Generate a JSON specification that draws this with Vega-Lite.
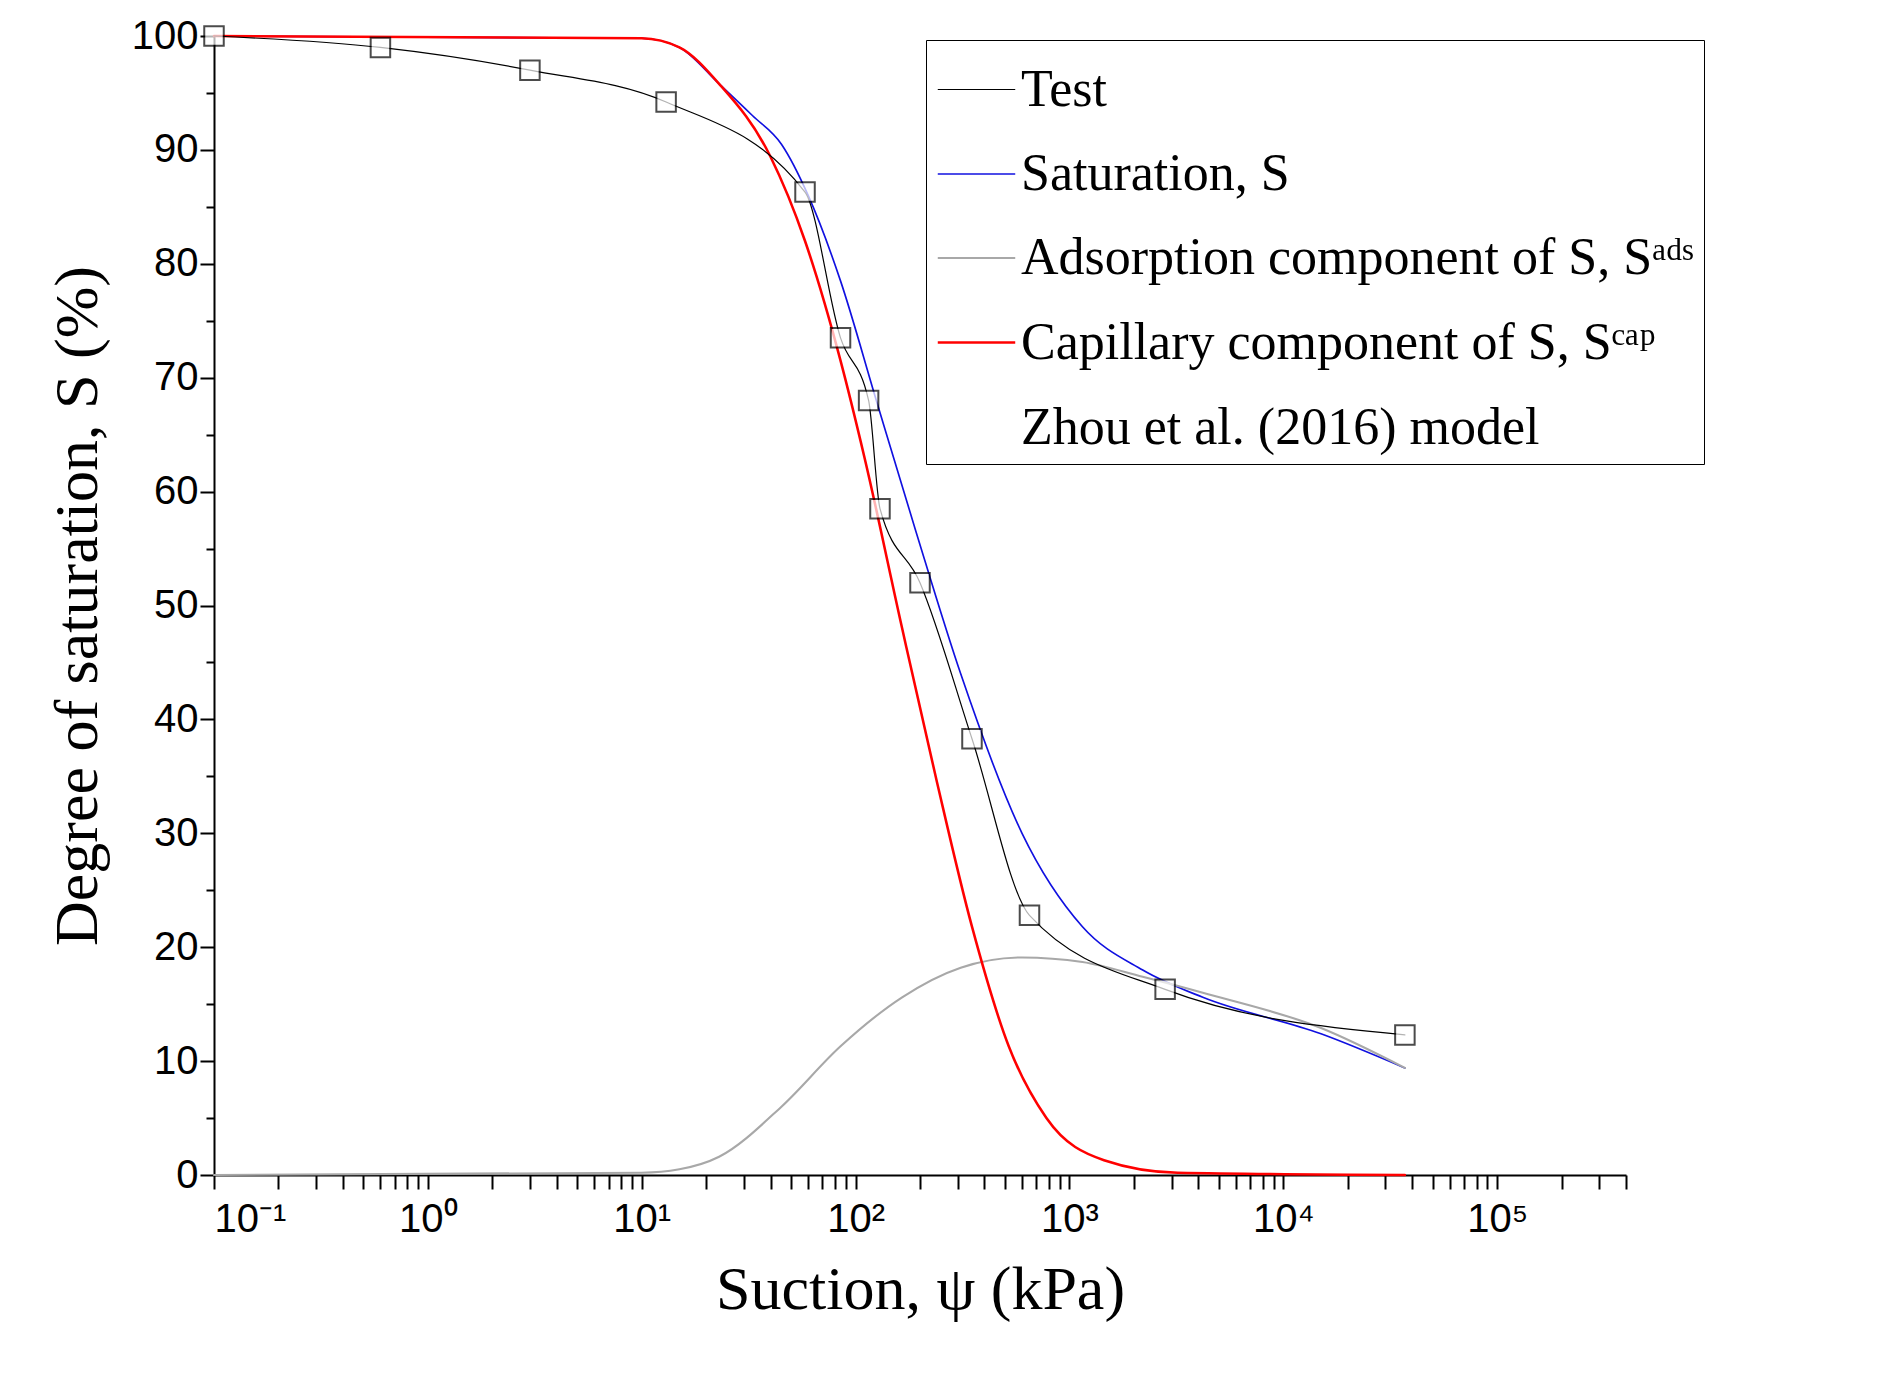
{
  "$schema": "https://vega.github.io/schema/vega-lite/v6.json",
  "width": 1412,
  "height": 1139,
  "autosize": "none",
  "padding": {"left": 214, "top": 36, "right": 260, "bottom": 214},
  "background": "white",
  "config": {"view": {"stroke": null}},
  "datasets": {
    "curves": [
      {"psi": 0.1, "S": 100, "series": "Saturation, S"},
      {"psi": 10, "S": 99.8, "series": "Saturation, S"},
      {"psi": 15, "S": 99, "series": "Saturation, S"},
      {"psi": 23, "S": 95.8, "series": "Saturation, S"},
      {"psi": 33, "S": 93, "series": "Saturation, S"},
      {"psi": 45, "S": 90.5, "series": "Saturation, S"},
      {"psi": 60, "S": 86, "series": "Saturation, S"},
      {"psi": 85, "S": 78.5, "series": "Saturation, S"},
      {"psi": 125, "S": 68, "series": "Saturation, S"},
      {"psi": 190, "S": 56.7, "series": "Saturation, S"},
      {"psi": 310, "S": 44, "series": "Saturation, S"},
      {"psi": 600, "S": 30, "series": "Saturation, S"},
      {"psi": 1150, "S": 21.8, "series": "Saturation, S"},
      {"psi": 2200, "S": 18, "series": "Saturation, S"},
      {"psi": 4200, "S": 15.6, "series": "Saturation, S"},
      {"psi": 15000, "S": 12.4, "series": "Saturation, S"},
      {"psi": 37000, "S": 9.4, "series": "Saturation, S"},
      {"psi": 0.1, "S": 0, "series": "Adsorption component of S, Sᵃᵈˢ"},
      {"psi": 10, "S": 0.2, "series": "Adsorption component of S, Sᵃᵈˢ"},
      {"psi": 15, "S": 0.5, "series": "Adsorption component of S, Sᵃᵈˢ"},
      {"psi": 23, "S": 1.6, "series": "Adsorption component of S, Sᵃᵈˢ"},
      {"psi": 45, "S": 6, "series": "Adsorption component of S, Sᵃᵈˢ"},
      {"psi": 85, "S": 11.3, "series": "Adsorption component of S, Sᵃᵈˢ"},
      {"psi": 165, "S": 15.6, "series": "Adsorption component of S, Sᵃᵈˢ"},
      {"psi": 310, "S": 18.2, "series": "Adsorption component of S, Sᵃᵈˢ"},
      {"psi": 600, "S": 19.1, "series": "Adsorption component of S, Sᵃᵈˢ"},
      {"psi": 1150, "S": 18.7, "series": "Adsorption component of S, Sᵃᵈˢ"},
      {"psi": 2200, "S": 17.4, "series": "Adsorption component of S, Sᵃᵈˢ"},
      {"psi": 4200, "S": 16, "series": "Adsorption component of S, Sᵃᵈˢ"},
      {"psi": 15000, "S": 12.9, "series": "Adsorption component of S, Sᵃᵈˢ"},
      {"psi": 37000, "S": 9.4, "series": "Adsorption component of S, Sᵃᵈˢ"},
      {"psi": 0.1, "S": 100, "series": "Capillary component of S, Sᶜᵃᵖ"},
      {"psi": 10, "S": 99.8, "series": "Capillary component of S, Sᶜᵃᵖ"},
      {"psi": 15, "S": 99, "series": "Capillary component of S, Sᶜᵃᵖ"},
      {"psi": 23, "S": 95.8, "series": "Capillary component of S, Sᶜᵃᵖ"},
      {"psi": 40, "S": 89.4, "series": "Capillary component of S, Sᶜᵃᵖ"},
      {"psi": 58, "S": 82, "series": "Capillary component of S, Sᶜᵃᵖ"},
      {"psi": 85, "S": 71.5, "series": "Capillary component of S, Sᶜᵃᵖ"},
      {"psi": 110, "S": 63, "series": "Capillary component of S, Sᶜᵃᵖ"},
      {"psi": 165, "S": 48, "series": "Capillary component of S, Sᶜᵃᵖ"},
      {"psi": 240, "S": 34.5, "series": "Capillary component of S, Sᶜᵃᵖ"},
      {"psi": 350, "S": 21.8, "series": "Capillary component of S, Sᶜᵃᵖ"},
      {"psi": 520, "S": 11.3, "series": "Capillary component of S, Sᶜᵃᵖ"},
      {"psi": 780, "S": 5, "series": "Capillary component of S, Sᶜᵃᵖ"},
      {"psi": 1450, "S": 1.3, "series": "Capillary component of S, Sᶜᵃᵖ"},
      {"psi": 3200, "S": 0.2, "series": "Capillary component of S, Sᶜᵃᵖ"},
      {"psi": 37000, "S": 0, "series": "Capillary component of S, Sᶜᵃᵖ"},
      {"psi": 0.1, "S": 100, "series": "Test"},
      {"psi": 0.6, "S": 99, "series": "Test"},
      {"psi": 3, "S": 97, "series": "Test"},
      {"psi": 13, "S": 94.2, "series": "Test"},
      {"psi": 58, "S": 86.3, "series": "Test"},
      {"psi": 85, "S": 73.5, "series": "Test"},
      {"psi": 115, "S": 68, "series": "Test"},
      {"psi": 130, "S": 58.5, "series": "Test"},
      {"psi": 200, "S": 52, "series": "Test"},
      {"psi": 350, "S": 38.3, "series": "Test"},
      {"psi": 650, "S": 22.8, "series": "Test"},
      {"psi": 2800, "S": 16.3, "series": "Test"},
      {"psi": 37000, "S": 12.3, "series": "Test"}
    ]
  },
  "data": {"name": "curves"},
  "encoding": {
    "x": {"field": "psi", "type": "quantitative",
      "scale": {"type": "log", "domain": [0.1, 400000]},
      "axis": {"values": [0.1,0.2,0.3,0.4,0.5,0.6,0.7,0.8,0.9,1,2,3,4,5,6,7,8,9,10,20,30,40,50,60,70,80,90,100,200,300,400,500,600,700,800,900,1000,2000,3000,4000,5000,6000,7000,8000,9000,10000,20000,30000,40000,50000,60000,70000,80000,90000,100000,200000,300000,400000],
        "labelExpr": "datum.value == 0.1 ? '10⁻¹' : datum.value == 1 ? '10⁰' : datum.value == 10 ? '10¹' : datum.value == 100 ? '10²' : datum.value == 1000 ? '10³' : datum.value == 10000 ? '10⁴' : datum.value == 100000 ? '10⁵' : ''",
        "labelOverlap": false,
        "title": "Suction,  ψ (kPa)", "titleFont": "Liberation Serif", "titleFontSize": 62, "titleFontWeight": "normal", "titlePadding": 20,
        "labelFont": "Liberation Sans", "labelFontSize": 40, "labelColor": "black", "labelPadding": 10,
        "grid": false, "domainColor": "black", "domainWidth": 2, "tickColor": "black", "tickWidth": 2,
        "tickSize": {"condition": {"test": "datum.label != ''", "value": 14}, "value": 8}}},
    "y": {"field": "S", "type": "quantitative",
      "scale": {"domain": [0, 100], "nice": false},
      "axis": {"values": [0, 5, 10, 15, 20, 25, 30, 35, 40, 45, 50, 55, 60, 65, 70, 75, 80, 85, 90, 95, 100],
        "labelExpr": "datum.value % 10 == 0 ? datum.label : ''",
        "labelOverlap": false,
        "title": "Degree of saturation, S (%)", "titleFont": "Liberation Serif", "titleFontSize": 62, "titleFontWeight": "normal", "titlePadding": 22,
        "labelFont": "Liberation Sans", "labelFontSize": 40, "labelColor": "black",
        "grid": false, "domainColor": "black", "domainWidth": 2, "tickColor": "black", "tickWidth": 2,
        "tickSize": {"condition": {"test": "datum.value % 10 == 0", "value": 14}, "value": 8}}}
  },
  "layer": [
    {
      "mark": {"type": "line", "strokeCap": "round", "interpolate": "monotone"},
      "encoding": {
        "color": {"field": "series", "type": "nominal",
          "scale": {"domain": ["Test", "Saturation, S", "Adsorption component of S, Sᵃᵈˢ", "Capillary component of S, Sᶜᵃᵖ", "Zhou et al. (2016) model"],
            "range": ["black", "#1010e0", "#a8a8a8", "#ff0000", "white"]},
          "legend": {"title": null, "orient": "none", "legendX": 712, "legendY": 4, "symbolType": "stroke", "symbolSize": 6000,
            "labelFont": "Liberation Serif", "labelFontSize": 52, "labelColor": "black", "labelLimit": 1200, "rowPadding": 18,
            "strokeColor": "black", "padding": 10, "fillColor": "white"}},
        "strokeWidth": {"field": "series", "type": "ordinal",
          "scale": {"domain": ["Test", "Saturation, S", "Adsorption component of S, Sᵃᵈˢ", "Capillary component of S, Sᶜᵃᵖ", "Zhou et al. (2016) model"],
            "range": [1.2, 3, 9, 10, 0]}},
        "order": {"field": "psi", "type": "quantitative"}
      }
    },
    {
      "transform": [{"filter": "datum.series === 'Test'"}],
      "mark": {"type": "square", "filled": true, "fill": "white", "stroke": "black", "strokeWidth": 2, "size": 380}
    }
  ]
}
